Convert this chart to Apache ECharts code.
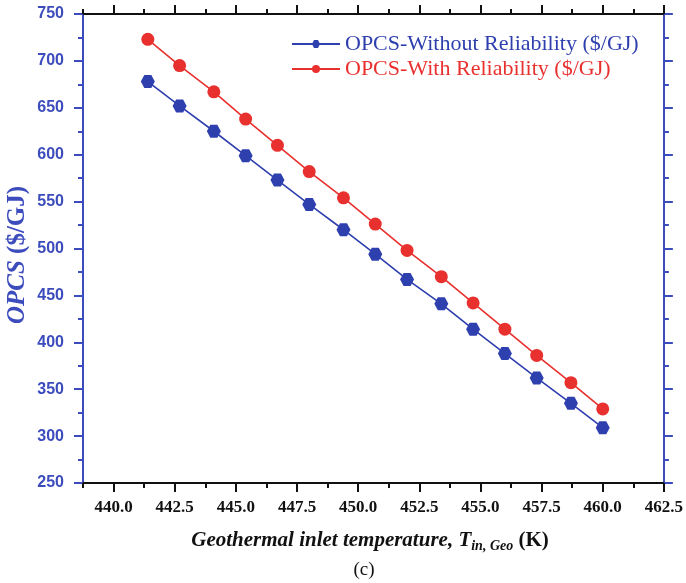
<!DOCTYPE html>
<html>
<head>
<meta charset="utf-8">
<script src="https://cdn.jsdelivr.net/npm/echarts@6/dist/echarts.min.js"></script>
<style>
  html, body { margin: 0; padding: 0; background: #fff; }
  #chart { width: 686px; height: 583px; }
</style>
</head>
<body>
<div id="chart"></div>
<script>
// inlet temperature (K)
var temps = [441.4, 442.7, 444.1, 445.4, 446.7, 448.0, 449.4, 450.7, 452.0, 453.4, 454.7, 456.0, 457.3, 458.7, 460.0];
// OPCS ($/GJ)
var withoutRel = [678, 652, 625, 599, 573, 547, 520, 494, 467, 441, 414, 388, 362, 335, 309];
var withRel = [723, 695, 667, 638, 610, 582, 554, 526, 498, 470, 442, 414, 386, 357, 329];
// x axis ticks
var xMajor = [440.0, 442.5, 445.0, 447.5, 450.0, 452.5, 455.0, 457.5, 460.0, 462.5];
var xMinor = [438.75, 441.25, 443.75, 446.25, 448.75, 451.25, 453.75, 456.25, 458.75, 461.25];

var blue = '#2e3fae';
var red = '#e8312e';
var axisBlue = '#3d4cbd';
var serif = '"Liberation Serif", "Times New Roman", serif';
var sans = '"Liberation Sans", Arial, sans-serif';

function pairs(xs, ys) {
    return xs.map(function(x, i) { return [x, ys[i]]; });
}

var myChart = echarts.init(document.getElementById('chart'));

function xAxisOf(pos, ticks, len, labels) {
    return {
        type: 'value',
        position: pos,
        min: 438.75,
        max: 462.5,
        splitLine: { show: false },
        axisLine: { show: true, onZero: false, lineStyle: { color: '#111', width: 2 } },
        axisTick: { show: true, inside: false, length: len, customValues: ticks,
            lineStyle: { color: '#111', width: 2 } },
        axisLabel: labels ? {
            show: true, customValues: xMajor, margin: 16,
            color: '#111', fontFamily: serif, fontWeight: 'bold', fontSize: 17,
            formatter: function(v) { return v.toFixed(1); }
        } : { show: false }
    };
}

function yAxisOf(pos, labels) {
    return {
        type: 'value',
        position: pos,
        min: 250,
        max: 750,
        interval: 50,
        splitLine: { show: false },
        axisLine: { show: true, onZero: false, lineStyle: { color: axisBlue, width: 2 } },
        axisTick: { show: true, inside: false, length: 9, lineStyle: { color: axisBlue, width: 2 } },
        minorTick: { show: true, splitNumber: 2, length: 5, lineStyle: { color: axisBlue, width: 2 } },
        axisLabel: labels ? {
            show: true, margin: 19, color: axisBlue, fontFamily: sans,
            fontWeight: 'bold', fontSize: 16
        } : { show: false }
    };
}

var option = {
    backgroundColor: '#fff',
    animation: false,
    grid: { left: 83, right: 21, top: 14, bottom: 100 },
    legend: {
        orient: 'vertical',
        left: 286,
        top: 28,
        itemWidth: 48,
        itemHeight: 10,
        itemGap: 3,
        textStyle: { fontFamily: serif, fontSize: 22 },
        data: [
            { name: 'OPCS-Without Reliability ($/GJ)', textStyle: { color: blue } },
            { name: 'OPCS-With Reliability ($/GJ)', textStyle: { color: red } }
        ]
    },
    xAxis: [
        xAxisOf('bottom', xMajor, 9, true),
        xAxisOf('bottom', xMinor, 5, false),
        xAxisOf('top', xMajor, 9, false),
        xAxisOf('top', xMinor, 5, false)
    ],
    yAxis: [
        yAxisOf('left', true),
        yAxisOf('right', false)
    ],
    series: [{
        name: 'OPCS-Without Reliability ($/GJ)',
        type: 'line',
        data: pairs(temps, withoutRel),
        symbol: 'path://M2,1L1.5,1.866L0.5,1.866L0,1L0.5,0.134L1.5,0.134Z',
        symbolSize: [14, 13],
        itemStyle: { color: blue },
        lineStyle: { color: blue, width: 1.6 }
    }, {
        name: 'OPCS-With Reliability ($/GJ)',
        type: 'line',
        data: pairs(temps, withRel),
        symbol: 'circle',
        symbolSize: 13,
        itemStyle: { color: red },
        lineStyle: { color: red, width: 1.6 }
    }],
    graphic: [{
        type: 'text',
        x: 370,
        y: 541,
        style: {
            text: '{a|Geothermal inlet temperature, T}{s|in, Geo}{b| (K)}',
            align: 'center',
            verticalAlign: 'middle',
            rich: {
                a: { fontFamily: serif, fontStyle: 'italic', fontWeight: 'bold', fontSize: 21, fill: '#111' },
                s: { fontFamily: serif, fontStyle: 'italic', fontWeight: 'bold', fontSize: 14, fill: '#111', padding: [11, 0, 0, 0] },
                b: { fontFamily: serif, fontWeight: 'bold', fontSize: 21, fill: '#111' }
            }
        }
    }, {
        type: 'text',
        x: 364,
        y: 570,
        style: {
            text: '(c)', fontFamily: serif, fontSize: 19, fill: '#111',
            align: 'center', verticalAlign: 'middle'
        }
    }, {
        type: 'text',
        x: 18,
        y: 255,
        rotation: Math.PI / 2,
        style: {
            text: '{a|OPCS}{b| ($/GJ)}',
            align: 'center',
            verticalAlign: 'middle',
            rich: {
                a: { fontFamily: serif, fontStyle: 'italic', fontWeight: 'bold', fontSize: 25, fill: axisBlue },
                b: { fontFamily: serif, fontWeight: 'bold', fontSize: 25, fill: axisBlue }
            }
        }
    }]
};

myChart.setOption(option);
</script>
</body>
</html>
